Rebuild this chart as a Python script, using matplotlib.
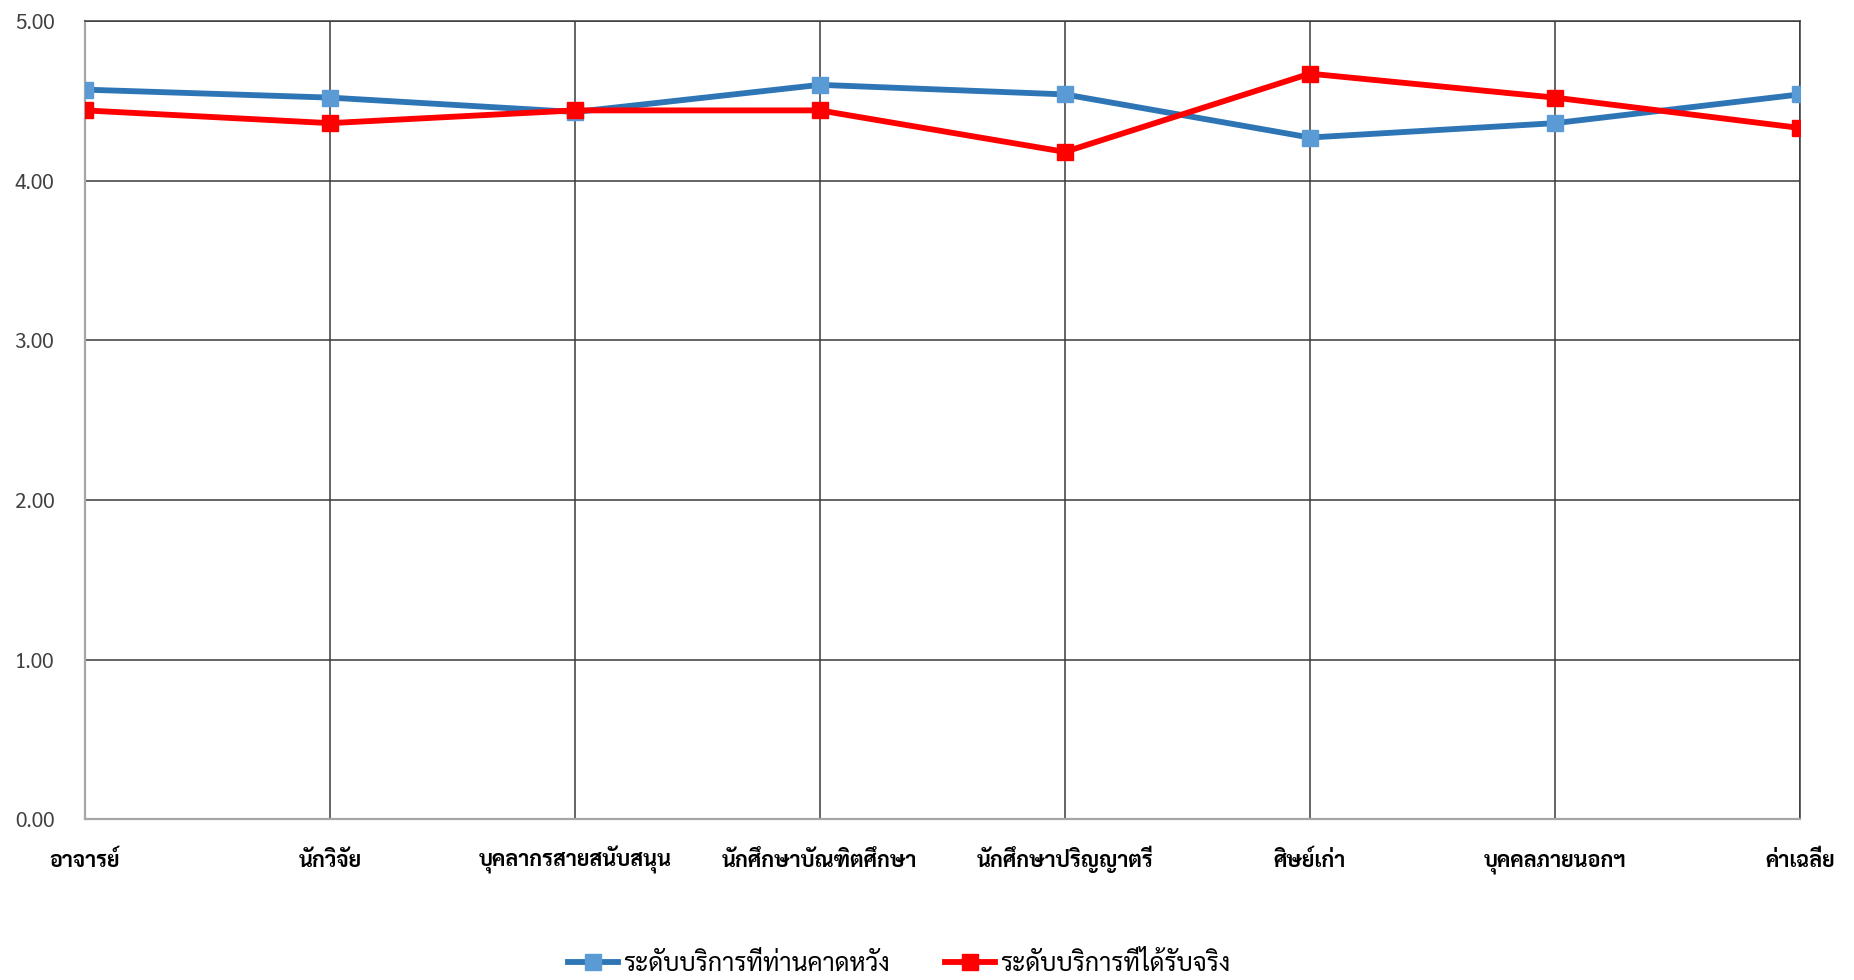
"""
Line chart: expected vs. received service level by respondent group.
"""

import matplotlib
matplotlib.use("Agg")
import matplotlib.pyplot as plt
import numpy as np

# -----------------------------------------------------------------------------
# Data
# -----------------------------------------------------------------------------
categories = [
  "อาจารย์", "นักวิจัย", "บุคลากรสายสนับสนุน", "นักศึกษาบัณฑิตศึกษา",
  "นักศึกษาปริญญาตรี", "ศิษย์เก่า", "บุคคลภายนอกฯ", "ค่าเฉลี่ย",
]
expected = [4.57, 4.52, 4.43, 4.60, 4.54, 4.27, 4.36, 4.54]
received = [4.44, 4.36, 4.44, 4.44, 4.18, 4.67, 4.52, 4.33]
series_names = ["ระดับบริการที่ท่านคาดหวัง", "ระดับบริการที่ได้รับจริง"]
y_ticks = [0, 1, 2, 3, 4, 5]

plt.rcParams["font.family"] = ["Sarabun", "DejaVu Sans"]

fig = plt.figure(figsize=(18.54, 9.8), dpi=100)
ax = fig.add_axes([0.0458, 0.164, 0.925, 0.8146])

x = np.arange(len(categories))

ax.plot(x, expected, color="#2E75B6", lw=4.2, marker="s", markersize=11,
        markerfacecolor="#5B9BD5", markeredgecolor="#5B9BD5", label=series_names[0],
        solid_joinstyle="round", zorder=3)
ax.plot(x, received, color="#FF0000", lw=4.2, marker="s", markersize=11,
        markerfacecolor="#FF0000", markeredgecolor="#FF0000", label=series_names[1],
        solid_joinstyle="round", zorder=4)

ax.set_xlim(0, len(categories) - 1)
ax.set_ylim(0, 5)
ax.set_yticks(y_ticks)
ax.set_yticklabels([f"{v:.2f}" for v in y_ticks], fontsize=15, color="#404040")
ax.set_xticks(x)
ax.set_xticklabels(categories, fontsize=15.5, fontweight="bold", color="#000000",
                   va="baseline")
ax.tick_params(axis="y", length=0, pad=22)
ax.tick_params(axis="x", length=0, pad=34)

# grid lines
ax.grid(True, axis="both", color="#3a3a3a", lw=1.1)
ax.set_axisbelow(True)
for side in ["top", "right"]:
  ax.spines[side].set_color("#3a3a3a")
  ax.spines[side].set_linewidth(1.1)
for side in ["left", "bottom"]:
  ax.spines[side].set_color("#A6A6A6")
  ax.spines[side].set_linewidth(1.6)
  ax.spines[side].set_zorder(2.5)

leg = fig.legend(loc="center", bbox_to_anchor=(0.485, 0.016), ncol=2, frameon=False,
                 fontsize=18, handlelength=2.0, columnspacing=2.2, handletextpad=0.2)

fig.savefig("out.png", dpi=100)
